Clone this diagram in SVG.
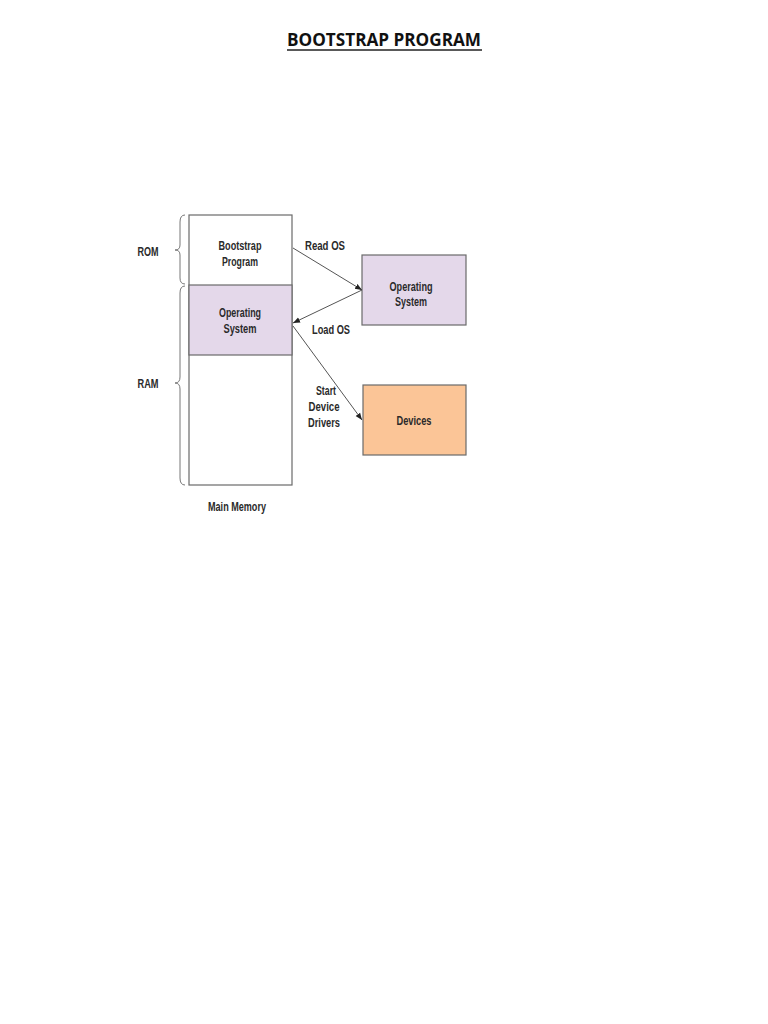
<svg xmlns="http://www.w3.org/2000/svg" width="768" height="1024" viewBox="0 0 768 1024">
<style>
.t{font-family:"Liberation Sans",Arial,sans-serif;font-weight:bold;font-size:12px;fill:#2a2a2a;text-anchor:middle}
.box{stroke:#6a6a6a;stroke-width:1.2}
.ln{stroke:#555;stroke-width:1;fill:none}
.br{stroke:#777;stroke-width:1;fill:none}
</style>
<defs>
<marker id="ah" viewBox="0 0 10 10" refX="10" refY="5" markerWidth="7" markerHeight="7" orient="auto" markerUnits="userSpaceOnUse">
<path d="M0,1 L10,5 L0,9 z" fill="#222"/>
</marker>
</defs>
<rect width="768" height="1024" fill="#fff"/>
<g id="title">
<text x="384" y="46" style="font-family:'Open Sans','Liberation Sans',sans-serif;font-weight:bold;font-size:17px;fill:#111;text-anchor:middle" textLength="194" lengthAdjust="spacingAndGlyphs">BOOTSTRAP PROGRAM</text>
<line x1="287" y1="50" x2="482" y2="50" stroke="#222" stroke-width="1.5"/>
</g>
<g id="memory">
<rect x="189" y="215" width="103" height="270" fill="#fff" class="box"/>
<rect x="189" y="285" width="103" height="70" fill="#e4d8ea" class="box"/>
<text class="t" x="240" y="250" textLength="43" lengthAdjust="spacingAndGlyphs">Bootstrap</text>
<text class="t" x="240" y="266" textLength="36" lengthAdjust="spacingAndGlyphs">Program</text>
<text class="t" x="240" y="317" textLength="42" lengthAdjust="spacingAndGlyphs">Operating</text>
<text class="t" x="240" y="333" textLength="33" lengthAdjust="spacingAndGlyphs">System</text>
<text class="t" x="237" y="511" textLength="58" lengthAdjust="spacingAndGlyphs">Main Memory</text>
</g>
<g id="rom-label">
<path class="br" d="M185,215 Q180,215 180,222 L180,245 Q180,250 175,250 Q180,250 180,255 L180,278 Q180,284 185,284"/>
<text class="t" x="148" y="256" textLength="21" lengthAdjust="spacingAndGlyphs">ROM</text>
</g>
<g id="ram-label">
<path class="br" d="M185,286 Q180,286 180,293 L180,377 Q180,383 175,383 Q180,383 180,389 L180,478 Q180,485 185,485"/>
<text class="t" x="148" y="388" textLength="21" lengthAdjust="spacingAndGlyphs">RAM</text>
</g>
<g id="os">
<rect x="362" y="255" width="104" height="70" fill="#e4d8ea" class="box"/>
<text class="t" x="411" y="291" textLength="43" lengthAdjust="spacingAndGlyphs">Operating</text>
<text class="t" x="411" y="306" textLength="32" lengthAdjust="spacingAndGlyphs">System</text>
</g>
<g id="devices">
<rect x="363" y="385" width="103" height="70" fill="#fbc597" class="box"/>
<text class="t" x="414" y="425" textLength="35" lengthAdjust="spacingAndGlyphs">Devices</text>
</g>
<g id="connectors">
<line class="ln" x1="293" y1="248" x2="362" y2="290" marker-end="url(#ah)"/>
<line class="ln" x1="362" y1="290" x2="293" y2="323" marker-end="url(#ah)"/>
<line class="ln" x1="293" y1="326" x2="362" y2="420" marker-end="url(#ah)"/>
<text class="t" x="325" y="250" textLength="40" lengthAdjust="spacingAndGlyphs">Read OS</text>
<text class="t" x="331" y="334" textLength="38" lengthAdjust="spacingAndGlyphs">Load OS</text>
<text class="t" x="326" y="395" textLength="20" lengthAdjust="spacingAndGlyphs">Start</text>
<text class="t" x="324" y="411" textLength="31" lengthAdjust="spacingAndGlyphs">Device</text>
<text class="t" x="324" y="427" textLength="32" lengthAdjust="spacingAndGlyphs">Drivers</text>
</g>
</svg>
